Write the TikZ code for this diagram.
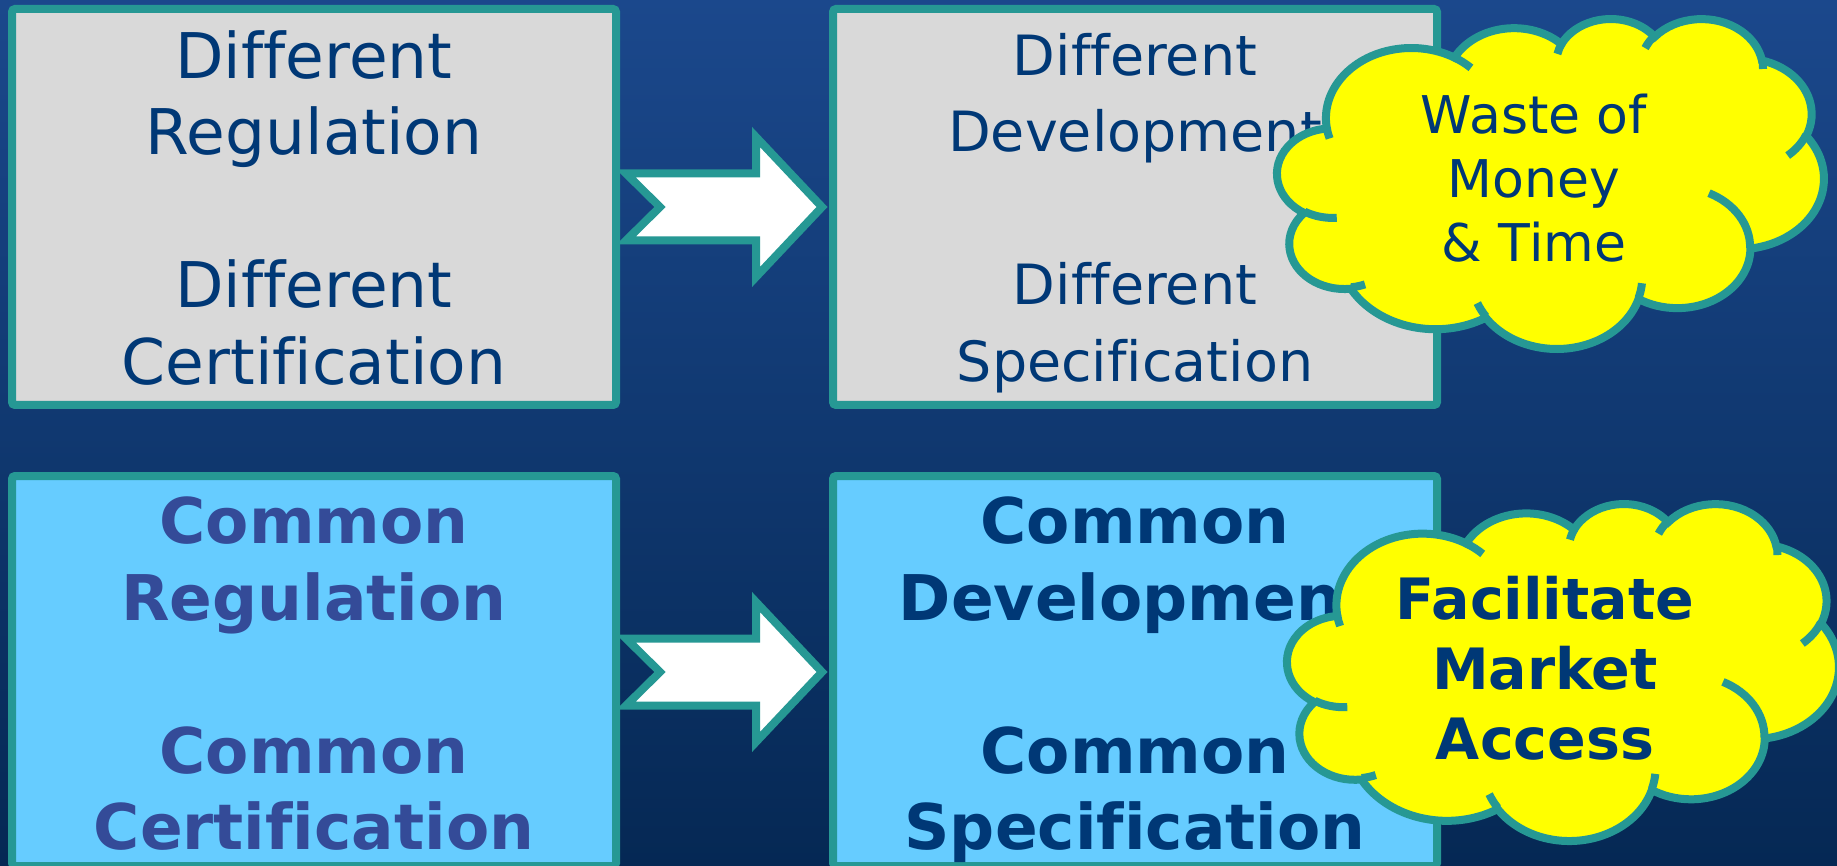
\documentclass[tikz,border=0pt]{standalone}
\usepackage{fontspec}
\setmainfont{DejaVu Sans}[Ligatures=NoCommon]
\usetikzlibrary{positioning}

\definecolor{bgtop}{RGB}{27,72,140}
\definecolor{bgbottom}{RGB}{5,40,84}
\definecolor{rim}{RGB}{38,152,148}
\definecolor{oldfill}{RGB}{217,217,217}
\definecolor{newfill}{RGB}{102,204,255}
\definecolor{navy}{RGB}{0,56,118}
\definecolor{slate}{RGB}{52,75,152}
\definecolor{puff}{RGB}{255,255,0}

\tikzset{
  box/.style={draw=rim, line width=8pt, rounded corners=3pt, minimum width=604pt, inner sep=0pt},
  oldbox/.style={box, fill=oldfill, minimum height=396pt},
  newbox/.style={box, fill=newfill, minimum height=390pt},
  oldtext/.style={inner sep=0pt, align=center, text=navy, font=\fontsize{63}{76.5}\selectfont},
  newtext/.style={oldtext, font=\fontsize{63}{76.5}\selectfont\bfseries},
  blockarrow/.style={draw=rim, fill=white, line width=8pt},
  cloudline/.style={draw=rim, line width=8pt},
}

% cloud outline in 1/100 of the 43200 frame
\newcommand{\cloudpuffs}{%
  \draw[cloudline, fill=puff] (39.00,143.70)
    arc[start angle=172.26, end angle=300.36, x radius=67.53, y radius=91.90]
    arc[start angle=-152.02, end angle=-45.43, x radius=53.33, y radius=72.67]
    arc[start angle=-153.48, end angle=-37.32, x radius=43.65, y radius=59.45]
    arc[start angle=-139.70, end angle=-10.21, x radius=48.57, y radius=65.95]
    arc[start angle=-74.77, end angle=23.21, x radius=53.33, y radius=72.73]
    arc[start angle=-37.52, end angle=81.86, x radius=67.75, y radius=92.20]
    arc[start angle=0.46, end angle=121.99, x radius=57.85, y radius=78.67]
    arc[start angle=16.85, end angle=146.25, x radius=67.52, y radius=92.15]
    arc[start angle=58.99, end angle=150.20, x radius=77.20, y radius=105.43]
    arc[start angle=83.31, end angle=223.12, x radius=43.60, y radius=59.18]
    arc[start angle=120.36, end angle=264.11, x radius=43.45, y radius=59.45]
    -- cycle;
  % inner puff lines
  \draw[cloudline] (46.93,261.77) arc[start angle=85.55, end angle=120.36, x radius=43.45, y radius=59.45];
  \draw[cloudline] (69.28,348.99) arc[start angle=68.24, end angle=83.31, x radius=43.60, y radius=59.18];
  \draw[cloudline] (164.78,390.90) arc[start angle=146.25, end angle=158.48, x radius=67.52, y radius=92.15];
  \draw[cloudline] (288.27,347.51) arc[start angle=4.74, end angle=16.85, x radius=67.52, y radius=92.15];
  \draw[cloudline] (341.29,229.54) arc[start angle=-64.02, end angle=0.46, x radius=57.85, y radius=78.67];
  \draw[cloudline] (417.98,153.54) arc[start angle=23.21, end angle=49.64, x radius=53.33, y radius=72.73];
  \draw[cloudline] (383.24,54.26) arc[start angle=-10.21, end angle=0.82, x radius=48.57, y radius=65.95];
  \draw[cloudline] (290.78,39.52) arc[start angle=-156.29, end angle=-139.70, x radius=48.57, y radius=65.95];
  \draw[cloudline] (221.41,47.20) arc[start angle=-167.72, end angle=-153.48, x radius=43.65, y radius=59.45];
  \draw[cloudline] (140.00,51.92) arc[start angle=-59.64, end angle=-45.71, x radius=67.53, y radius=91.90];
  \draw[cloudline] (41.27,157.89) arc[start angle=163.19, end angle=172.26, x radius=67.53, y radius=91.90];
}

\begin{document}
\begin{tikzpicture}[x=1pt, y=-1pt]
  \useasboundingbox (0,0) rectangle (1837,866);
  \fill[top color=bgtop, bottom color=bgbottom] (0,0) rectangle (1837,866);

  % top row
  \node[oldbox] (reg) at (314,207) {};
  \node[oldbox] (dev) at (1135,207) {};
  \node[oldtext, below=25pt of reg.north] (regtext) {Different\\Regulation\\[76.5pt]Different\\Certification};
  \node[oldtext, font=\fontsize{55.5}{76.5}\selectfont, below=28pt of dev.north] (devtext)
    {Different\\Development\\[76.5pt]Different\\Specification};

  % bottom row
  \node[newbox] (comreg) at (314,671) {};
  \node[newbox] (comdev) at (1135,671) {};
  \node[newtext, text=slate, below=25pt of comreg.north] (comregtext) {Common\\Regulation\\[76.5pt]Common\\Certification};
  \node[newtext, below=25pt of comdev.north] (comdevtext) {Common\\Development\\[76.5pt]Common\\Specification};

  % notched arrows
  \draw[blockarrow] ([shift={(6,-33.5)}]reg.east) -- ++(130,0) -- ++(0,-36.5) -- ++(66,70)
    -- ++(-66,70) -- ++(0,-36.5) -- ++(-130,0) -- ++(34,-33.5) -- cycle;
  \draw[blockarrow] ([shift={(6,-32.5)}]comreg.east) -- ++(130,0) -- ++(0,-36.5) -- ++(66,70)
    -- ++(-66,70) -- ++(0,-36.5) -- ++(-130,0) -- ++(34,-33.5) -- cycle;

  % clouds
  \begin{scope}[shift={(1277.4,17.9)}, x=1.2646pt, y=-0.76357pt]
    \cloudpuffs
  \end{scope}
  \begin{scope}[shift={(1287.4,502.9)}, x=1.2762pt, y=-0.7798pt]
    \cloudpuffs
  \end{scope}
  \node[oldtext, font=\fontsize{52}{64}\selectfont] (waste) at (1534,178) {Waste of\\Money\\\& Time};
  \node[newtext, font=\fontsize{57}{70}\selectfont\bfseries] (access) at (1545,668) {Facilitate\\Market\\Access};
\end{tikzpicture}
\end{document}
